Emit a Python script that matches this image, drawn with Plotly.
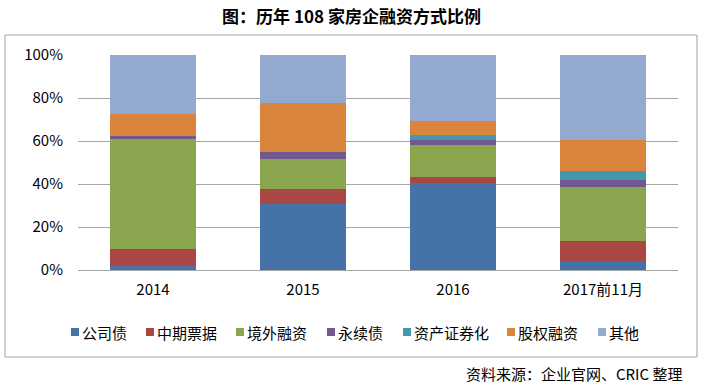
import plotly.graph_objects as go

categories = ["2014", "2015", "2016", "2017前11月"]
series_names = ["公司债", "中期票据", "境外融资", "永续债", "资产证券化", "股权融资", "其他"]
corp_bond = [2.0, 30.7, 40.6, 4.2]
mtn = [7.6, 6.8, 2.8, 9.1]
overseas = [51.2, 14.1, 14.6, 25.5]
perpetual = [1.5, 3.3, 2.5, 3.1]
abs_sec = [0.0, 0.0, 2.3, 4.1]
equity = [10.3, 22.9, 6.7, 14.5]
other = [27.4, 22.2, 30.5, 39.5]
y_ticks = [0, 20, 40, 60, 80, 100]
y_tick_labels = ["0%", "20%", "40%", "60%", "80%", "100%"]

series_values = [corp_bond, mtn, overseas, perpetual, abs_sec, equity, other]
colors = ["#4572A7", "#AA4643", "#89A54E", "#71588F", "#4198AF", "#DB843D", "#93A9CF"]

FONT = "Noto Sans CJK SC"
W, H = 703, 388
PL, PR, PT, PB = 78, 678, 55, 270  # plot area in pixels


def px_x(px):
    return (px - PL) / (PR - PL)


def px_y(py):
    return (PB - py) / (PB - PT)


fig = go.Figure()
for name, vals, col in zip(series_names, series_values, colors):
    fig.add_trace(go.Bar(
        x=categories, y=vals, name=name,
        marker=dict(color=col, line=dict(width=0)),
        showlegend=False,
    ))

# custom legend (squares + labels) laid out like the reference
legend_square_x = [75, 150, 240, 331, 407, 511, 602]
legend_y = 332
shapes = [dict(type="rect", xref="paper", yref="paper",
               x0=px_x(5), x1=px_x(697), y0=px_y(357), y1=px_y(35),
               line=dict(color="#A0A0A0", width=1), fillcolor="rgba(0,0,0,0)", layer="below")]
annotations = []
for name, col, cx in zip(series_names, colors, legend_square_x):
    shapes.append(dict(type="rect", xref="paper", yref="paper",
                       x0=px_x(cx - 4), x1=px_x(cx + 4),
                       y0=px_y(legend_y + 4), y1=px_y(legend_y - 4),
                       line=dict(width=0), fillcolor=col))
    annotations.append(dict(text=name, xref="paper", yref="paper",
                            x=px_x(cx + 5), y=px_y(legend_y), xanchor="left", yanchor="middle",
                            showarrow=False,
                            font=dict(family=FONT, size=15, color="#000")))

annotations.append(dict(text="资料来源：企业官网、CRIC 整理", xref="paper", yref="paper",
                        x=px_x(684), y=px_y(373), xanchor="right", yanchor="middle",
                        showarrow=False, font=dict(family=FONT, size=15, color="#000")))

fig.update_layout(
    barmode="stack",
    bargap=0.43,
    width=W, height=H,
    margin=dict(l=PL, r=W - PR, t=PT, b=H - PB),
    paper_bgcolor="white", plot_bgcolor="white",
    showlegend=False,
    font=dict(family=FONT, size=15, color="#000000"),
    title=dict(text="<b>图：历年 108 家房企融资方式比例</b>", x=0.5, xanchor="center",
               y=1 - 17 / H, yanchor="middle", font=dict(family=FONT, size=17, color="#000")),
    xaxis=dict(showgrid=False, showline=False, ticks="", ticklabelstandoff=9,
               tickfont=dict(family=FONT, size=15)),
    yaxis=dict(range=[0, 100], tickvals=y_ticks, ticktext=y_tick_labels,
               showgrid=True, gridcolor="#A6A6A6", gridwidth=1,
               zeroline=True, zerolinecolor="#A6A6A6", zerolinewidth=1,
               showline=False, ticks="", ticklabelstandoff=14,
               tickfont=dict(family=FONT, size=15)),
    shapes=shapes,
    annotations=annotations,
)

fig.write_html("out.html", config={"displayModeBar": False},
               post_script="document.body.style.margin='0';document.body.style.overflow='hidden';")
